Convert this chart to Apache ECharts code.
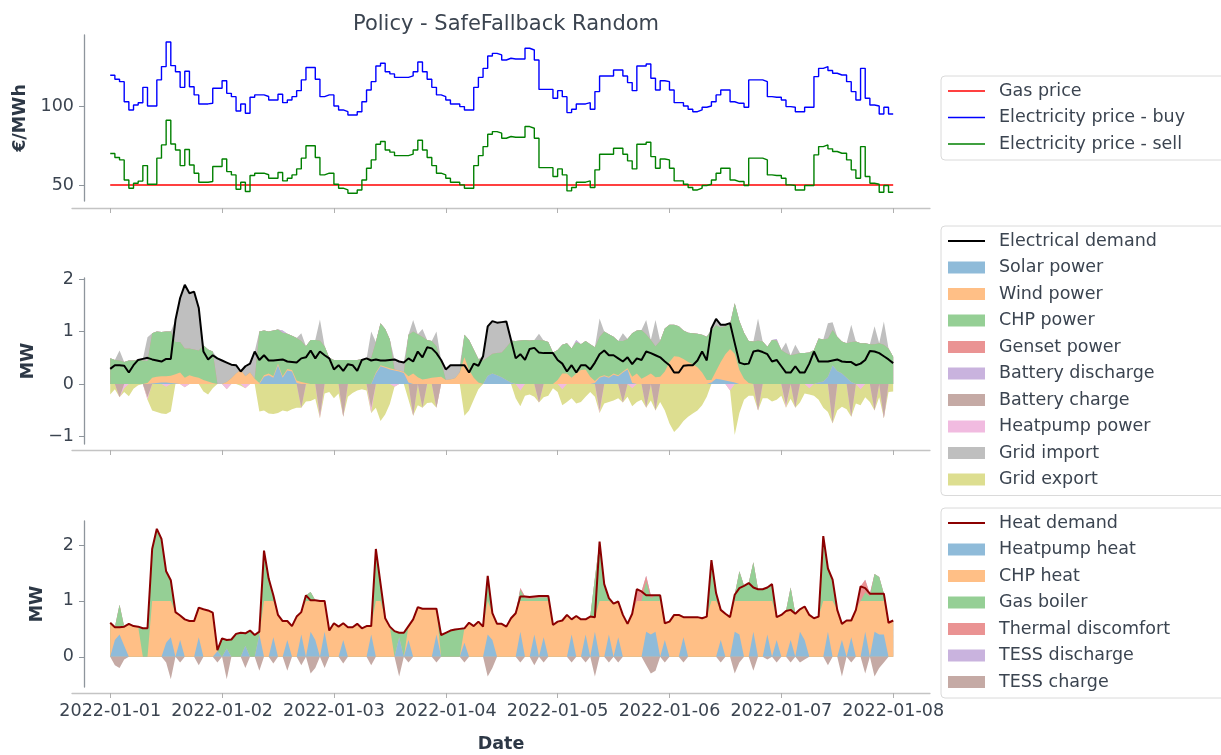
<!DOCTYPE html>
<html><head><meta charset="utf-8">
<script src="https://cdn.jsdelivr.net/npm/echarts/dist/echarts.min.js"></script>
<style>html,body{margin:0;padding:0;background:#fff}#c{width:1221px;height:755px}</style>
</head><body><div id="c"></div>
<script>
// ---------- DATA (hourly, hour 0 = 2022-01-01 00:00) ----------
const dateLabels = ['2022-01-01','2022-01-02','2022-01-03','2022-01-04','2022-01-05','2022-01-06','2022-01-07','2022-01-08'];
const dayTicks = [0,24,48,72,96,120,144,168];
const priceTicks = [50,100];
const powerTicks = [-1,0,1,2];
const heatTicks = [0,1,2];

const gasPriceLevel = 50;
const priceBuy = [119.4,116.9,115.4,102.7,97.5,100.6,102.0,111.8,100.0,100.0,
116.5,124.9,140.5,125.5,121.7,111.8,122.0,112.2,107.0,101.3,
101.3,101.7,111.2,111.2,116.0,108.0,105.9,96.8,101.3,95.4,
105.5,107.0,107.0,106.0,103.8,103.8,107.4,102.1,103.8,105.9,
109.7,116.5,124.3,124.3,116.9,105.9,107.0,107.0,100.0,97.5,
96.4,94.3,94.3,96.4,102.7,110.1,115.4,125.3,127.0,121.7,
120.3,118.1,118.1,118.1,119.0,121.7,127.8,121.7,116.9,111.8,
107.0,105.9,103.8,101.3,101.3,99.6,97.5,97.5,111.8,118.1,
123.8,131.6,133.3,132.3,129.1,130.2,129.7,129.7,129.7,136.5,
135.4,129.1,110.5,110.5,110.5,104.9,109.7,105.9,95.8,97.9,
101.3,101.3,102.1,97.9,109.1,119.0,119.0,119.0,122.8,122.8,
119.0,114.8,109.7,125.3,125.3,126.6,117.5,110.1,116.0,115.4,
110.1,102.1,102.1,100.0,97.9,96.4,97.5,99.2,100.0,102.7,
107.0,110.1,110.1,102.7,101.7,101.7,99.2,116.5,116.5,116.5,
115.4,105.9,105.5,105.5,103.8,99.6,99.2,96.4,96.4,99.2,
99.2,118.6,123.8,124.9,122.4,120.7,119.6,119.6,115.4,109.1,
103.8,123.8,104.9,100.6,100.0,94.9,99.2,94.9,94.9];
const priceSell = [69.9,67.4,65.9,53.2,48.0,51.1,52.5,62.3,50.5,50.5,
67.0,75.4,91.0,76.0,72.2,62.3,72.5,62.7,57.5,51.8,
51.8,52.2,61.7,61.7,66.5,58.5,56.4,47.3,51.8,45.9,
56.0,57.5,57.5,56.5,54.3,54.3,57.9,52.6,54.3,56.4,
60.2,67.0,74.8,74.8,67.4,56.4,57.5,57.5,50.5,48.0,
46.9,44.8,44.8,46.9,53.2,60.6,65.9,75.8,77.5,72.2,
70.8,68.6,68.6,68.6,69.5,72.2,78.3,72.2,67.4,62.3,
57.5,56.4,54.3,51.8,51.8,50.1,48.0,48.0,62.3,68.6,
74.3,82.1,83.8,82.8,79.6,80.7,80.2,80.2,80.2,87.0,
85.9,79.6,61.0,61.0,61.0,55.4,60.2,56.4,46.3,48.4,
51.8,51.8,52.6,48.4,59.6,69.5,69.5,69.5,73.3,73.3,
69.5,65.3,60.2,75.8,75.8,77.1,68.0,60.6,66.5,65.9,
60.6,52.6,52.6,50.5,48.4,46.9,48.0,49.7,50.5,53.2,
57.5,60.6,60.6,53.2,52.2,52.2,49.7,67.0,67.0,67.0,
65.9,56.4,56.0,56.0,54.3,50.1,49.7,46.9,46.9,49.7,
49.7,69.1,74.3,75.4,72.9,71.2,70.1,70.1,65.9,59.6,
54.3,74.3,55.4,51.1,50.5,45.4,49.7,45.4,45.4];

const elecDemand = [0.29,0.36,0.36,0.35,0.22,0.36,0.46,0.48,0.50,0.47,
0.45,0.43,0.48,0.48,1.22,1.64,1.89,1.73,1.76,1.45,
0.62,0.47,0.55,0.49,0.45,0.41,0.37,0.36,0.24,0.34,
0.39,0.62,0.46,0.55,0.45,0.45,0.46,0.47,0.43,0.42,
0.41,0.49,0.51,0.64,0.49,0.62,0.55,0.49,0.28,0.36,
0.25,0.38,0.36,0.25,0.46,0.49,0.45,0.47,0.45,0.45,
0.46,0.47,0.43,0.41,0.49,0.43,0.62,0.51,0.70,0.68,
0.59,0.46,0.28,0.36,0.36,0.36,0.36,0.22,0.39,0.35,
0.53,1.10,1.20,1.17,1.18,1.19,0.84,0.49,0.57,0.46,
0.67,0.69,0.60,0.59,0.59,0.59,0.46,0.39,0.24,0.36,
0.22,0.36,0.36,0.28,0.41,0.57,0.64,0.55,0.55,0.49,
0.43,0.51,0.38,0.49,0.46,0.62,0.59,0.55,0.51,0.43,
0.36,0.22,0.22,0.35,0.36,0.36,0.45,0.62,0.45,1.06,
1.24,1.13,1.13,1.16,0.78,0.41,0.38,0.39,0.62,0.64,
0.61,0.57,0.43,0.46,0.34,0.22,0.22,0.34,0.22,0.22,
0.39,0.62,0.43,0.43,0.43,0.45,0.47,0.43,0.42,0.42,
0.36,0.39,0.46,0.63,0.62,0.59,0.53,0.47,0.40];

const chpPower = [0.49,0.46,0.45,0.42,0.45,0.45,0.47,0.45,0.42,0.85,
0.86,0.84,0.85,0.84,0.61,0.58,0.56,0.51,0.52,0.52,
0.66,0.61,0.60,0,0,0,0,0,0,0,
0,0,0.98,0.85,0.80,0.87,0.65,0.83,0.67,0.65,
0.81,0.78,0.70,0.84,0.84,0.83,0.72,0.50,0.46,0.46,
0.46,0.46,0.46,0.46,0.48,0.48,0.50,0.58,0.80,0.72,
0.55,0,0,0,0.79,0.80,0.82,0.81,0.74,0.70,
0.59,0.30,0,0,0,0,0.43,0.57,0.54,0.45,
0.45,0.35,0.38,0.42,0.47,0.62,0.78,0.82,0.83,0.84,
0.83,0.84,0.84,0.83,0.80,0.60,0.57,0.55,0.58,0.56,
0.60,0.49,0.54,0.62,0.64,0.76,0.83,0.81,0.70,0.65,
0.58,0.56,0.83,0.82,0.93,0.80,0.64,0.59,0.68,0.82,
0.71,0.60,0.58,0.54,0.56,0.59,0.64,0.72,0.82,0.94,
0.87,0.66,0.53,0.47,0.96,0.93,0.88,0.80,0.81,0.83,
0.81,0.71,0.84,0.83,0.65,0.59,0.55,0.57,0.59,0.59,
0.60,0.65,0.84,0.80,0.73,0.67,0.65,0.61,0.66,0.76,
0.81,0.78,0.78,0.76,0.76,0.78,0.75,0.68,0.52];

const gridExport = [-0.20,-0.10,0,-0.07,-0.23,-0.09,-0.02,0,0,-0.50,
-0.53,-0.56,-0.52,-0.52,0,0,0,0,0,0,
-0.14,-0.20,-0.08,0,0,0,0,0,-0.03,0,
0,0,-0.52,-0.50,-0.56,-0.57,-0.55,-0.50,-0.52,-0.48,
-0.45,0,-0.33,-0.32,-0.28,0,-0.18,-0.15,-0.27,-0.18,
0,-0.24,-0.17,-0.12,-0.10,-0.12,0,-0.45,-0.70,-0.58,
-0.38,0,0,0,-0.30,0,-0.40,0,-0.36,-0.35,
0,0,0,0,0,0,-0.60,-0.50,-0.30,-0.10,
0,0,0,0,0,0,0,-0.27,-0.30,-0.22,
-0.20,-0.24,0,-0.25,-0.22,-0.08,-0.15,-0.30,-0.34,-0.27,
-0.37,-0.34,-0.24,-0.15,-0.24,0,-0.37,-0.34,-0.31,-0.27,
0,-0.24,-0.34,-0.34,-0.30,0,-0.31,0,-0.34,-0.50,
-0.75,-0.91,-0.82,-0.70,-0.62,-0.56,-0.50,-0.40,-0.24,0,
0,0,0,0,-0.97,-0.55,-0.30,-0.22,-0.22,0,
-0.27,-0.27,-0.33,-0.30,-0.22,0,-0.28,0,-0.35,-0.18,
-0.12,-0.22,-0.30,-0.45,-0.53,0,-0.50,-0.43,-0.48,0,
-0.37,-0.30,-0.25,-0.34,0,-0.25,0,-0.15,-0.14];

// sparse series: [hour, value]; all other hours are 0
const solarPower = [[9,0.01],[10,0.02],[11,0.03],[12,0.03],[13,0.02],[14,0.01],
[33,0.14],[34,0.17],[35,0.12],[36,0.36],[37,0.12],[38,0.26],[39,0.24],[40,0.02],
[57,0.20],[58,0.34],[59,0.31],[60,0.28],[61,0.26],[62,0.24],[63,0.21],[64,0.03],
[81,0.16],[82,0.20],[83,0.17],[84,0.13],[85,0.08],[86,0.03],
[104,0.02],[105,0.12],[106,0.15],[107,0.12],[108,0.18],[109,0.15],[110,0.22],[111,0.28],[112,0.02],
[129,0.03],[130,0.10],[131,0.09],[132,0.07],[133,0.05],[134,0.03],
[152,0.03],[153,0.05],[154,0.14],[155,0.36],[156,0.25],[157,0.20],[158,0.12],[159,0.04]];
const windPower = [[8,0.02],[9,0.11],[10,0.12],[11,0.12],[12,0.12],[13,0.14],[14,0.18],[15,0.22],[16,0.12],[17,0.17],[18,0.14],[19,0.12],[20,0.08],[21,0.05],[22,0.02],
[25,0.04],[26,0.11],[27,0.20],[28,0.27],[29,0.15],[30,0.22],[31,0.10],[32,0.02],
[33,0.03],[34,0.03],[35,0.03],[36,0.03],[37,0.03],[38,0.03],[39,0.03],[40,0.05],[41,0.04],[42,0.02],
[57,0.02],[58,0.02],[59,0.02],[60,0.02],[61,0.02],[62,0.02],[63,0.02],
[64,0.12],[65,0.20],[66,0.13],[67,0.09],[68,0.10],[69,0.12],[70,0.13],[71,0.14],
[72,0.08],[73,0.09],[74,0.11],[75,0.22],[76,0.51],[77,0.27],[78,0.12],[79,0.03],
[96,0.08],[97,0.20],[98,0.20],[99,0.12],[100,0.20],[101,0.27],[102,0.28],[103,0.14],[104,0.04],
[105,0.02],[106,0.02],[107,0.02],[108,0.02],[109,0.02],[110,0.02],[111,0.02],
[112,0.12],[113,0.20],[114,0.10],[115,0.15],[116,0.20],[117,0.13],[118,0.14],
[119,0.24],[120,0.42],[121,0.53],[122,0.52],[123,0.48],[124,0.42],[125,0.38],[126,0.32],[127,0.22],[128,0.08],
[129,0.05],[130,0.15],[131,0.33],[132,0.50],[133,0.62],[134,0.55],[135,0.27],[136,0.10],[137,0.02]];
const gensetPower = [];
const batteryDischarge = [[37,0.04],[100,0.04],[143,0.03]];
const gridImport = [[2,0.19],[7,0.03],[8,0.45],[14,0.42],[15,0.84],[16,1.21],[17,1.05],[18,1.10],[19,0.81],
[23,0.49],[24,0.45],[25,0.37],[26,0.26],[27,0.16],[29,0.19],[30,0.17],[31,0.52],
[41,0.15],[45,0.40],[56,0.50],[61,0.19],[62,0.17],[63,0.18],[65,0.22],[67,0.15],[70,0.28],
[71,0.02],[72,0.20],[73,0.27],[74,0.25],[75,0.14],
[80,0.08],[81,0.59],[82,0.62],[83,0.58],[84,0.58],[85,0.49],[86,0.03],
[92,0.12],[105,0.35],[110,0.15],[115,0.27],[117,0.50],
[129,0.04],[130,0.12],[131,0.05],[132,0.03],[133,0.02],
[139,0.42],[145,0.20],[147,0.18],[154,0.29],[155,0.15],[159,0.33],[164,0.34],[166,0.44]];
const batteryCharge = [[2,-0.25],[8,-0.25],[41,-0.45],[45,-0.60],[50,-0.62],[56,-0.45],[65,-0.60],[67,-0.45],[70,-0.45],
[92,-0.35],[105,-0.50],[110,-0.35],[115,-0.45],[117,-0.50],[139,-0.50],[145,-0.40],[147,-0.45],
[155,-0.75],[159,-0.62],[164,-0.50],[166,-0.65]];
const heatpumpPower = [[3,-0.08],[8,-0.05],[12,-0.05],[16,-0.06],[25,-0.10],[29,-0.08],[45,-0.05],[56,-0.10],[61,-0.05],
[88,-0.12],[97,-0.10],[105,-0.05],[112,-0.08],[133,-0.12],[145,-0.05],[150,-0.08],[161,-0.10]];

const heatDemand = [0.61,0.53,0.53,0.54,0.59,0.55,0.54,0.51,0.51,1.93,
2.29,2.11,1.53,1.37,0.80,0.74,0.67,0.64,0.64,0.88,
0.85,0.83,0.79,0.12,0.33,0.30,0.31,0.41,0.43,0.42,
0.47,0.39,0.45,1.90,1.40,1.10,0.75,0.64,0.64,0.55,
0.72,0.80,1.10,1.01,1.01,1.00,1.00,0.47,0.60,0.54,
0.60,0.53,0.53,0.59,0.51,0.55,0.55,1.93,1.31,0.69,
0.54,0.46,0.43,0.43,0.55,0.67,0.89,0.86,0.86,0.86,
0.86,0.39,0.43,0.47,0.49,0.50,0.51,0.61,0.55,0.63,
0.54,1.45,0.78,0.59,0.59,0.54,0.69,0.78,1.08,1.08,
1.07,1.08,1.09,1.09,1.09,0.57,0.63,0.65,0.75,0.67,
0.73,0.67,0.67,0.72,0.71,2.06,1.30,1.05,0.95,0.99,
0.75,0.59,0.77,1.21,1.17,1.10,1.10,1.10,1.10,0.60,
0.63,0.75,0.75,0.71,0.71,0.71,0.71,0.69,0.72,1.73,
1.14,0.84,0.77,0.71,1.11,1.23,1.27,1.32,1.24,1.21,
1.21,1.24,1.30,0.71,0.75,0.82,0.84,0.77,0.85,0.90,
0.75,0.69,0.72,2.16,1.58,1.38,0.84,0.59,0.65,0.65,
0.84,1.26,1.23,1.13,1.13,1.13,1.13,0.61,0.65];
const chpHeat = [0.61,0.23,0.13,0.34,0.59,0.55,0.54,0,0,1.0,
1.0,1.0,0.75,0.65,0.80,0.44,0.67,0.64,0.64,0.53,
0.85,0.83,0.79,0,0,0,0,0,0,0,
0,0,0,1.0,1.0,0.65,0.75,0.64,0.34,0.55,
0.72,0.40,1.0,0.55,0.70,1.0,0.55,0.47,0.60,0.54,
0.30,0.53,0.53,0.59,0.51,0.55,0.15,1.0,1.0,0.69,
0.54,0,0,0,0.25,0.67,0.89,0.86,0.86,0.86,
0.46,0,0,0,0,0,0.26,0.61,0.55,0.63,
0.54,0.60,0.48,0.59,0.59,0.54,0.69,0.78,0.55,1.0,
1.0,0.60,1.0,0.65,1.0,0.57,0.63,0.65,0.75,0.27,
0.73,0.67,0.27,0.72,0.26,1.0,1.0,0.60,0.95,0.64,
0.75,0.59,0.77,1.0,1.0,0.55,0.60,0.55,1.0,0.30,
0.63,0.75,0.75,0.36,0.71,0.71,0.71,0.69,0.72,1.0,
1.0,0.54,0.77,0.71,0.55,0.60,1.0,1.0,0.55,1.0,
1.0,0.60,1.0,0.41,0.75,0.82,0.54,0.77,0.40,0.60,
0.75,0.69,0.72,1.0,0.55,1.0,0.84,0.29,0.65,0.30,
0.84,1.0,0.55,1.0,0.55,0.60,0.60,0.61,0.65];
const gasBoiler = [[2,0.40],[7,0.51],[8,0.51],[9,0.93],[10,1.29],[11,1.11],[12,0.53],[13,0.37],
[23,0.02],[24,0.33],[25,0.15],[26,0.31],[27,0.41],[28,0.43],[29,0.22],[30,0.47],[31,0.39],[32,0.05],
[33,0.90],[34,0.40],[35,0.10],[42,0.10],[43,0.16],[44,0.01],[57,0.93],[58,0.31],
[61,0.46],[62,0.08],[63,0.43],[71,0.39],[72,0.43],[73,0.47],[74,0.49],[75,0.50],[81,0.45],
[88,0.20],[89,0.05],[90,0.04],[91,0.05],[92,0.06],[93,0.06],[94,0.06],
[104,0.70],[105,1.06],[106,0.30],[107,0.05],[115,0.35],[116,0.05],[117,0.10],[118,0.10],[129,0.73],[130,0.14],
[134,0.11],[135,0.53],[136,0.27],[137,0.32],[138,0.69],[139,0.21],[140,0.21],[141,0.24],[142,0.30],
[146,0.40],[153,1.16],[154,0.58],[155,0.38],[162,0.15],[163,0.08],[164,0.48],[165,0.43],[166,0.13]];
const thermalDiscomfort = [[88,0.03],[89,0.03],[90,0.03],[91,0.03],[92,0.03],[93,0.03],[94,0.03],
[113,0.21],[114,0.17],[115,0.10],[116,0.05],[161,0.26],[162,0.23],[163,0.05]];
const tessDischarge = [];
const heatpumpHeat = [[1,0.30],[2,0.40],[3,0.20],[12,0.25],[13,0.35],[15,0.30],[19,0.35],[23,0.10],[25,0.15],[29,0.20],
[32,0.40],[35,0.35],[38,0.30],[41,0.40],[43,0.45],[44,0.30],[46,0.45],[50,0.30],[56,0.40],[62,0.35],[64,0.30],
[70,0.40],[76,0.25],[81,0.40],[82,0.30],[88,0.45],[91,0.40],[93,0.35],[99,0.40],[102,0.40],[104,0.45],
[107,0.40],[109,0.35],[115,0.45],[116,0.40],[117,0.45],[119,0.30],[123,0.35],[131,0.30],[134,0.45],[135,0.40],
[138,0.45],[141,0.40],[143,0.30],[146,0.30],[148,0.45],[149,0.30],[154,0.45],[157,0.30],[159,0.35],
[162,0.45],[164,0.45],[165,0.40],[166,0.40]];
const tessCharge = [[1,-0.15],[2,-0.20],[3,-0.05],[12,-0.10],[13,-0.40],[15,-0.10],[19,-0.15],[23,-0.10],[25,-0.40],[29,-0.20],
[32,-0.25],[35,-0.12],[38,-0.25],[41,-0.15],[43,-0.30],[44,-0.20],[46,-0.20],[50,-0.12],[56,-0.15],[62,-0.35],[64,-0.10],
[70,-0.10],[76,-0.10],[81,-0.35],[82,-0.20],[88,-0.10],[91,-0.15],[93,-0.10],[99,-0.10],[102,-0.10],[104,-0.35],
[107,-0.10],[109,-0.10],[115,-0.15],[116,-0.30],[117,-0.25],[119,-0.10],[123,-0.10],[131,-0.10],[134,-0.30],[135,-0.10],
[138,-0.25],[141,-0.05],[143,-0.10],[146,-0.10],[148,-0.10],[149,-0.05],[154,-0.15],[157,-0.35],[159,-0.10],
[162,-0.30],[164,-0.35],[165,-0.20],[166,-0.10]];

// ---------- helpers ----------
const N = 169;
const dense = pairs => { const a = new Array(N).fill(0); pairs.forEach(p => { a[p[0]] = p[1]; }); return a; };
const xy = arr => arr.map((v, i) => [i, v]);

const TXT = '#3b4450', NAME = '#2d3846', FONT = 'DejaVu Sans';
const C = {
  solar:'#8fbbd9', wind:'#ffbf86', chp:'#95cf95', genset:'#ea9393', bdis:'#c9b3de',
  bch:'#c5aaa5', hp:'#f1bbe0', imp:'#bfbfbf', exp:'#ddde90'
};
const fmt = v => v < 0 ? '\u2212' + Math.abs(v) : String(v);

const xAx = (i, show, offset, name) => ({
  type:'value', gridIndex:i, min:-8.2, max:175.9, offset,
  name: name || '', nameLocation:'middle', nameGap:42,
  nameTextStyle:{color:NAME, fontSize:17.5, fontWeight:'bold', fontFamily:FONT},
  axisLine:{show:true, onZero:false, lineStyle:{color:'#c4c4c4', width:1.3}},
  axisTick:{show:true, customValues:dayTicks, length:5, lineStyle:{color:'#b0b0b0', width:1}},
  axisLabel:{show:show, customValues:dayTicks, formatter:v => dateLabels[Math.round(v/24)],
    color:TXT, fontSize:17.5, fontFamily:FONT, margin:9},
  splitLine:{show:false}
});
const yAx = (i, min, max, ticks, name, gap) => ({
  type:'value', gridIndex:i, min, max, offset:-12,
  name, nameLocation:'middle', nameGap:gap, nameRotate:90,
  nameTextStyle:{color:NAME, fontSize:17.5, fontWeight:'bold', fontFamily:FONT},
  axisLine:{show:true, onZero:false, lineStyle:{color:'#8e959c', width:1.3}},
  axisTick:{show:true, customValues:ticks, length:5, lineStyle:{color:'#8e959c', width:1}},
  axisLabel:{customValues:ticks, formatter:fmt, color:TXT, fontSize:17.5, fontFamily:FONT, margin:10},
  splitLine:{show:false}
});

// Stacked areas: each layer is drawn as the running total filled down to 0,
// outermost layer first, so every band shows the colour of its own layer.
function stackLayers(layers, gi) {
  let run = new Array(N).fill(0);
  const out = layers.map(l => {
    run = run.map((v, i) => v + l.values[i]);
    return {
      type:'line', name:l.name, xAxisIndex:gi, yAxisIndex:gi, silent:true,
      data: xy(run.slice()), symbol:'none',
      lineStyle:{width:0, color:l.color}, itemStyle:{color:l.color},
      areaStyle:{color:l.color, opacity:1, origin:0}, z:2
    };
  });
  return out.reverse();
}
const line = (name, data, color, gi, width, step) => ({
  type:'line', name, xAxisIndex:gi, yAxisIndex:gi, silent:true, data, step: step || false,
  symbol:'none', lineStyle:{width, color}, itemStyle:{color}, z:5
});
const legend = (top, data) => ({
  orient:'vertical', left:941, top, data, selectedMode:false,
  itemWidth:37, itemHeight:12, itemGap:8.5, symbolKeepAspect:true,
  padding:[6, 90, 7, 7], borderColor:'#dadada', borderWidth:1, borderRadius:4, backgroundColor:'#fff',
  textStyle:{color:TXT, fontSize:17.5, fontFamily:FONT, lineHeight:18, padding:[0,0,0,9]}
});
const rectItem = (name, color) => ({name, icon:'rect', itemStyle:{color, borderWidth:0}});
const lineItem = (name, color, path) => ({name, icon:path, itemStyle:{color, borderWidth:0}});
const THIN = 'path://M0 0H26V1H0Z', THICK = 'path://M0 0H19V1H0Z';

const option = {
  animation:false,
  backgroundColor:'#ffffff',
  title:{text:'Policy - SafeFallback Random', left:501, top:9, textAlign:'center',
    textStyle:{color:TXT, fontSize:21, fontWeight:'normal', fontFamily:FONT}},
  grid:[
    {left:72, width:858, top:35, height:166},
    {left:72, width:858, top:278, height:166},
    {left:72, width:858, top:521, height:166}
  ],
  xAxis:[ xAx(0,false,7), xAx(1,false,6), xAx(2,true,6,'Date') ],
  yAxis:[
    yAx(0, 39.9, 144.9, priceTicks, '\u20ac/MWh', 54),
    yAx(1, -1.14, 2.02, powerTicks, 'MW', 38),
    yAx(2, -0.54, 2.43, heatTicks, 'MW', 38)
  ],
  legend:[
    legend(76, [lineItem('Gas price','#ff0000',THIN), lineItem('Electricity price - buy','#0000ff',THIN),
      lineItem('Electricity price - sell','#008000',THIN)]),
    legend(226, [lineItem('Electrical demand','#000000',THICK), rectItem('Solar power',C.solar), rectItem('Wind power',C.wind),
      rectItem('CHP power',C.chp), rectItem('Genset power',C.genset), rectItem('Battery discharge',C.bdis),
      rectItem('Battery charge',C.bch), rectItem('Heatpump power',C.hp), rectItem('Grid import',C.imp),
      rectItem('Grid export',C.exp)]),
    legend(508, [lineItem('Heat demand','#8b0000',THICK), rectItem('Heatpump heat',C.solar), rectItem('CHP heat',C.wind),
      rectItem('Gas boiler',C.chp), rectItem('Thermal discomfort',C.genset), rectItem('TESS discharge',C.bdis),
      rectItem('TESS charge',C.bch)])
  ],
  series:[
    line('Gas price', [[0,gasPriceLevel],[168,gasPriceLevel]], '#ff0000', 0, 1.4),
    line('Electricity price - buy', xy(priceBuy), '#0000ff', 0, 1.4, 'end'),
    line('Electricity price - sell', xy(priceSell), '#008000', 0, 1.4, 'end'),

    ...stackLayers([
      {name:'Solar power', values:dense(solarPower), color:C.solar},
      {name:'Wind power', values:dense(windPower), color:C.wind},
      {name:'CHP power', values:chpPower, color:C.chp},
      {name:'Genset power', values:dense(gensetPower), color:C.genset},
      {name:'Battery discharge', values:dense(batteryDischarge), color:C.bdis},
      {name:'Grid import', values:dense(gridImport), color:C.imp}
    ], 1),
    ...stackLayers([
      {name:'Battery charge', values:dense(batteryCharge), color:C.bch},
      {name:'Heatpump power', values:dense(heatpumpPower), color:C.hp},
      {name:'Grid export', values:gridExport, color:C.exp}
    ], 1),
    line('Electrical demand', xy(elecDemand), '#000000', 1, 2),

    ...stackLayers([
      {name:'Heatpump heat', values:dense(heatpumpHeat), color:C.solar},
      {name:'CHP heat', values:chpHeat, color:C.wind},
      {name:'Gas boiler', values:dense(gasBoiler), color:C.chp},
      {name:'Thermal discomfort', values:dense(thermalDiscomfort), color:C.genset},
      {name:'TESS discharge', values:dense(tessDischarge), color:C.bdis}
    ], 2),
    ...stackLayers([
      {name:'TESS charge', values:dense(tessCharge), color:C.bch}
    ], 2),
    line('Heat demand', xy(heatDemand), '#8b0000', 2, 2)
  ]
};
echarts.init(document.getElementById('c'), null, {renderer:'canvas'}).setOption(option);
</script></body></html>
